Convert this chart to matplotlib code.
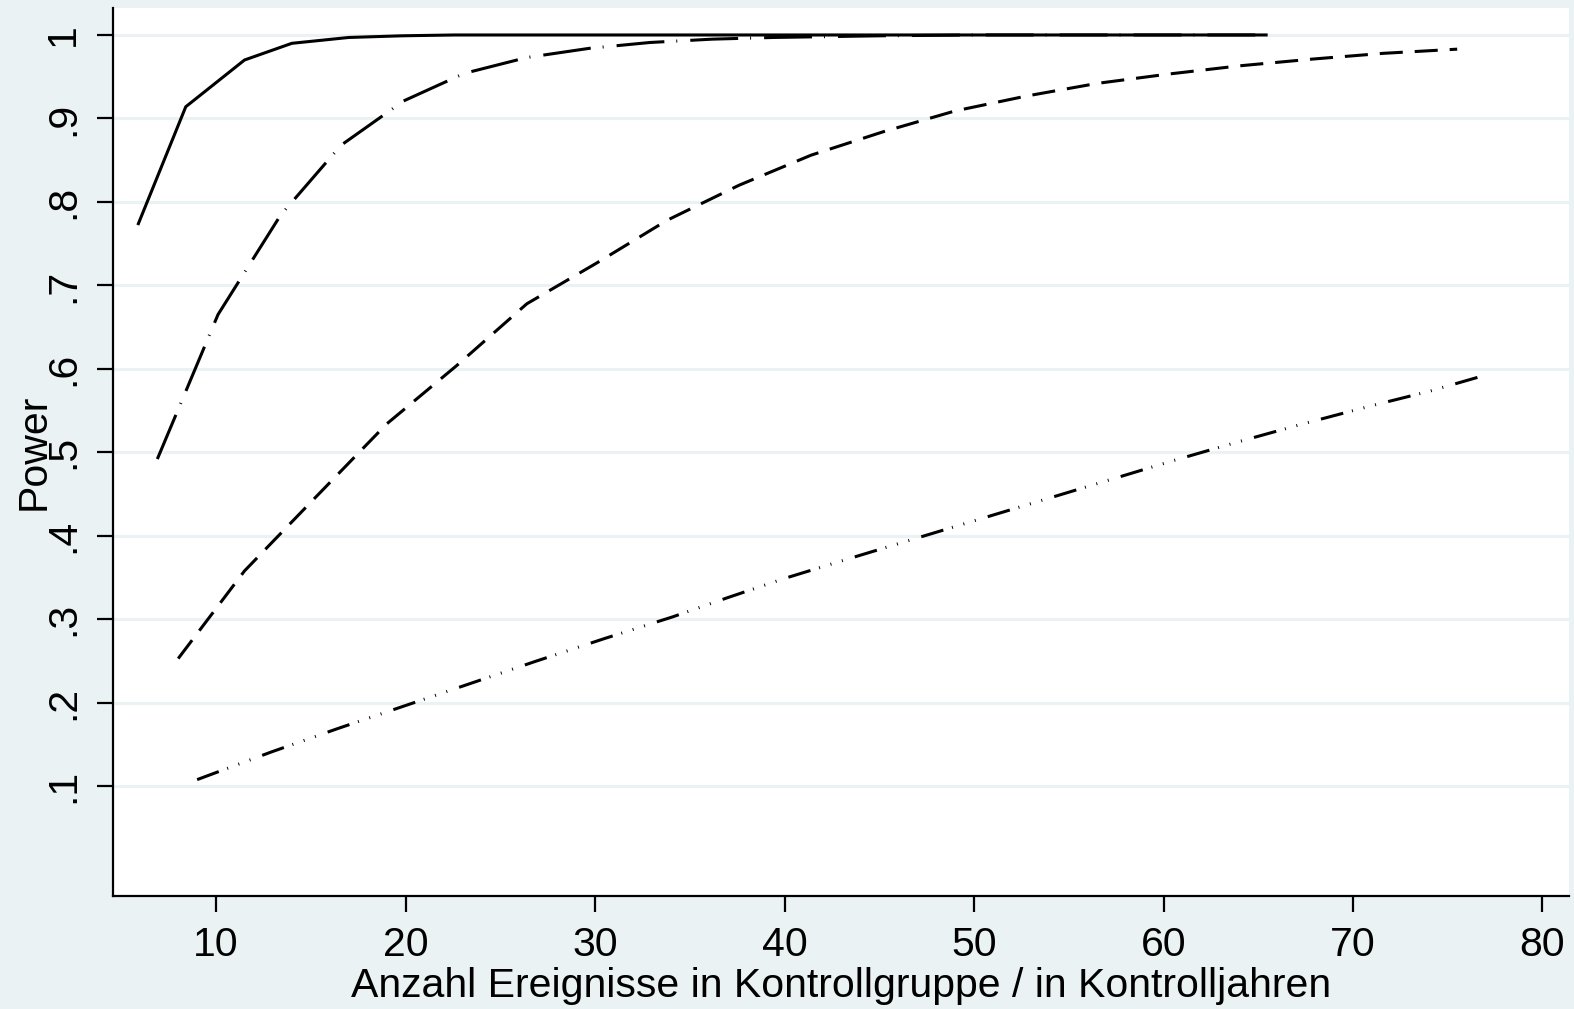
import matplotlib
matplotlib.use("Agg")
import matplotlib.pyplot as plt

# power curves (x = events in control group)
x_solid = [5.9, 8.4, 11.5, 14.0, 17.0, 19.8, 22.6, 30.0, 40.0, 50.0, 60.0, 65.4]
y_solid = [0.774, 0.914, 0.970, 0.990, 0.997, 0.999, 1.0, 1.0, 1.0, 1.0, 1.0, 1.0]

x_dashdot = [6.9, 10.1, 13.4, 16.6, 19.9, 23.1, 26.4, 29.7, 32.9, 36.2, 39.4, 45.0, 50.0, 55.0, 60.0, 65.5]
y_dashdot = [0.492, 0.665, 0.784, 0.868, 0.921, 0.954, 0.973, 0.984, 0.991, 0.995, 0.997, 0.999, 1.0, 1.0, 1.0, 1.0]

x_dash = [8.0, 11.5, 15.2, 19.0, 22.7, 26.4, 30.1, 33.8, 37.6, 41.4, 45.2, 49.0, 52.8, 56.5, 60.2, 64.0, 67.8, 71.6, 75.5]
y_dash = [0.253, 0.358, 0.445, 0.534, 0.604, 0.678, 0.727, 0.778, 0.820, 0.856, 0.884, 0.909, 0.927, 0.942, 0.953, 0.963, 0.971, 0.978, 0.983]

x_dot = [9.0, 12.9, 16.4, 19.9, 23.4, 26.9, 30.5, 34.1, 37.0, 40.0, 43.3, 46.5, 50.0, 53.5, 57.0, 60.5, 64.0, 67.5, 71.0, 74.0, 76.6]
y_dot = [0.108, 0.141, 0.169, 0.196, 0.223, 0.250, 0.277, 0.303, 0.326, 0.349, 0.372, 0.394, 0.418, 0.442, 0.466, 0.490, 0.513, 0.535, 0.556, 0.573, 0.590]

x_ticks = [10, 20, 30, 40, 50, 60, 70, 80]
y_ticks = [0.1, 0.2, 0.3, 0.4, 0.5, 0.6, 0.7, 0.8, 0.9, 1.0]
y_ticklabels = [".1", ".2", ".3", ".4", ".5", ".6", ".7", ".8", ".9", "1"]

BG = "#EAF2F3"
FS = 29.5

plt.rcParams['font.family'] = ['Liberation Sans', 'DejaVu Sans']
plt.rcParams['lines.scale_dashes'] = False

fig = plt.figure(figsize=(15.74, 10.09), dpi=100, facecolor=BG)
ax = fig.add_axes([113 / 1574, 1 - 896 / 1009, 1456 / 1574, 888 / 1009])
ax.set_facecolor("white")

lw = 2.2
ax.plot(x_solid, y_solid, color="black", lw=lw, solid_joinstyle="round")
ax.plot(x_dashdot, y_dashdot, color="black", lw=lw, dashes=(34.5, 8.6, 0.7, 9.4))
ax.plot(x_dash, y_dash, color="black", lw=lw, dashes=(16.6, 8.6))
ax.plot(x_dot, y_dot, color="black", lw=lw,
        dashes=(16.6, 6.5, 0.7, 7.9, 0.7, 7.9, 0.7, 9.0))

ax.set_xlim(4.56, 81.4)
ax.set_ylim(-0.0314, 1.0323)

ax.set_xticks(x_ticks)
ax.set_yticks(y_ticks)
ax.set_yticklabels(y_ticklabels)
ax.tick_params(axis="both", length=11.5, width=1.6, color="black", labelsize=FS)
ax.tick_params(axis="x", pad=10)
ax.tick_params(axis="y", pad=11, labelrotation=90)
for lab in ax.get_yticklabels():
    lab.set_va("center")

ax.yaxis.grid(True, color=BG, lw=2.2)
ax.set_axisbelow(True)

for side in ["top", "right"]:
    ax.spines[side].set_visible(False)
for side in ["left", "bottom"]:
    ax.spines[side].set_linewidth(1.6)
    ax.spines[side].set_color("black")

ax.set_xlabel("Anzahl Ereignisse in Kontrollgruppe / in Kontrolljahren", fontsize=FS, labelpad=2)
fig.text(34 / 1574, 1 - 452 / 1009, "Power", fontsize=FS, rotation=90, ha="center", va="center")

fig.savefig("out.png", dpi=100, facecolor=BG)
